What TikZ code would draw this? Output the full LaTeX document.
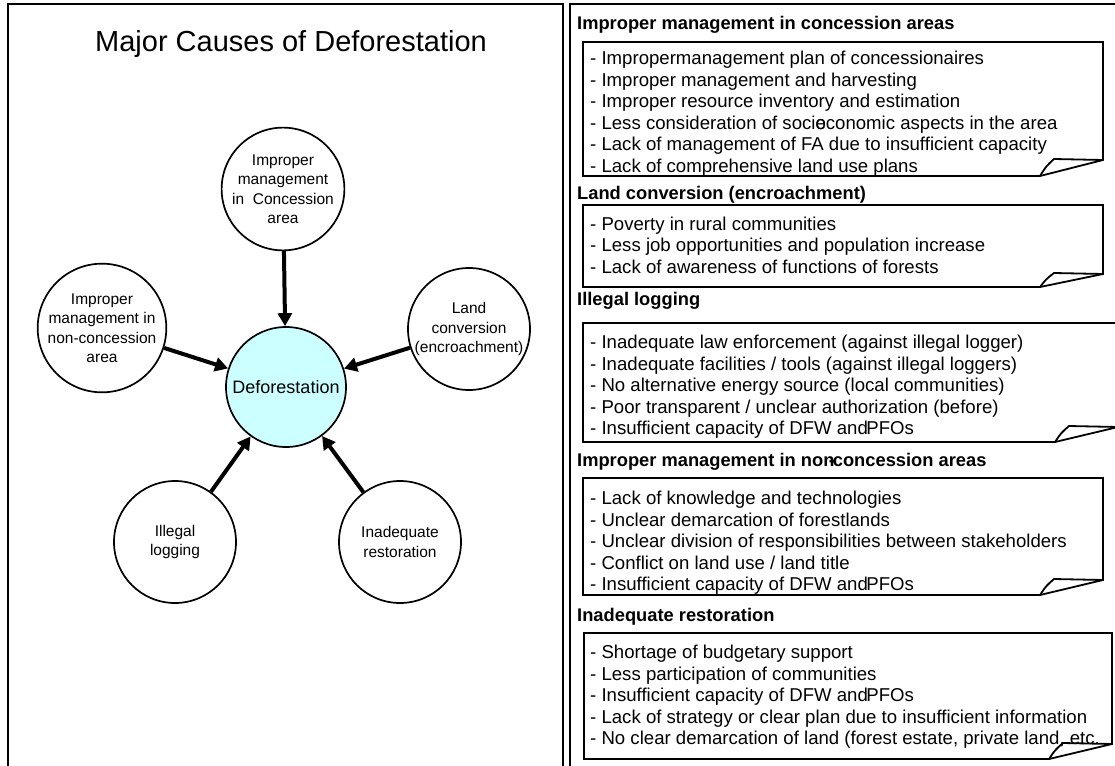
\documentclass[tikz,border=0pt]{standalone}
\usepackage{fontspec}
\setmainfont{Liberation Sans}
\usetikzlibrary{arrows.meta}
\definecolor{defcyan}{HTML}{CCFFFF}
\tikzset{
  frame/.style={line width=2.4pt},
  boxline/.style={line width=1.8pt,line join=miter},
  cause/.style={circle,draw,line width=1.7pt,minimum size=122pt,inner sep=0pt,align=center,
     font=\fontsize{15.5}{19.5}\selectfont},
  core/.style={circle,draw,line width=1.7pt,minimum size=120pt,inner sep=0pt,fill=defcyan,
     font=\fontsize{18}{21}\selectfont},
  arr/.style={line width=4pt,-{Triangle[length=13pt,width=14pt]}},
  head/.style={anchor=base west,inner sep=0pt,font=\fontsize{18.3}{21}\selectfont\bfseries},
  items/.style={anchor=north west,inner sep=0pt,align=left,font=\fontsize{18.6}{21.5}\selectfont}
}
% box outline with a folded bottom-right corner: L, T, R, B, corner rise
\newcommand\boxoutline[5]{%
  \draw[boxline,fill=white] (#1,#2) -- (#3,#2) -- (#3,#4-#5) -- (#3-63,#4) -- (#1,#4) -- cycle;}
\newcommand\boxcurl[5]{%
  \draw[boxline] (#3-63,#4) .. controls (#3-57,#4-#5*0.6) .. (#3-49,#4-#5-1) -- (#3,#4-#5);}
\begin{document}
\begin{tikzpicture}[x=1pt,y=-1pt]
\useasboundingbox (0,0) rectangle (1115,765);
% panels
\draw[frame] (8,780) -- (8,4) -- (563,4) -- (563,780);
\draw[frame] (570,780) -- (570,4) -- (1130,4);
% left panel
\node[font=\fontsize{29}{34}\selectfont,inner sep=0pt] (title) at (291,44) {Major Causes of Deforestation};
\node[core] (def) at (286,387) {Deforestation};
\node[cause] (cC) at (283,189) {Improper\\management\\in\ \ Concession\\area};
\node[cause] (cN) at (102,328) {Improper\\management in\\non-concession\\area};
\node[cause] (cL) at (469,329) {Land\\conversion\\(encroachment)};
\node[cause] (cI) at (175,542) {Illegal\\logging};
\node[cause] (cR) at (400,542) {Inadequate\\restoration};
\draw[arr] (cC) -- (def);
\draw[arr] (cN) -- (def);
\draw[arr] (cL) -- (def);
\draw[arr] (cI) -- (def);
\draw[arr] (cR) -- (def);
% right panel
\node[head] (h1) at (577,30) {Improper management in concession areas};
\boxoutline{583}{42}{1103}{176}{16}
\node[items] (b1) at (590,51) {- Impropermanagement plan of concessionaires\\
- Improper management and harvesting\\
- Improper resource inventory and estimation\\
- Less consideration of soci\makebox[0pt][l]{o}economic aspects in the area\\
- Lack of management of FA due to insufficient capacity\\
- Lack of comprehensive land use plans};
\boxcurl{583}{42}{1103}{176}{16}
\node[head] (h2) at (577,199) {Land conversion (encroachment)};
\boxoutline{583}{205}{1103}{287}{13}
\node[items] (b2) at (590,216.5) {- Poverty in rural communities\\
- Less job opportunities and population increase\\
- Lack of awareness of functions of forests};
\boxcurl{583}{205}{1103}{287}{13}
\node[head] (h3) at (577,305) {Illegal logging};
\boxoutline{583}{323}{1118}{442}{15}
\node[items] (b3) at (590,335) {- Inadequate law enforcement (against illegal logger)\\
- Inadequate facilities / tools (against illegal loggers)\\
- No alternative energy source (local communities)\\
- Poor transparent / unclear authorization (before)\\
- Insufficient capacity of DFW and\kern-1.5pt PFOs};
\boxcurl{583}{323}{1118}{442}{15}
\node[head] (h4) at (577,466) {Improper management in non\kern-0.3em-\kern-0.12em concession areas};
\boxoutline{583}{478}{1103}{595}{15}
\node[items] (b4) at (590,491) {- Lack of knowledge and technologies\\
- Unclear demarcation of forestlands\\
- Unclear division of responsibilities between stakeholders\\
- Conflict on land use / land title\\
- Insufficient capacity of DFW and\kern-1.5pt PFOs};
\boxcurl{583}{478}{1103}{595}{15}
\node[head] (h5) at (577,621) {Inadequate restoration};
\boxoutline{584}{633}{1112}{759}{15}
\node[items] (b5) at (590,645) {- Shortage of budgetary support\\
- Less participation of communities\\
- Insufficient capacity of DFW and\kern-1.5pt PFOs\\
- Lack of strategy or clear plan due to insufficient information\\
- No clear demarcation of land (forest estate, private land, etc.};
\boxcurl{584}{633}{1112}{759}{15}
\end{tikzpicture}
\end{document}
